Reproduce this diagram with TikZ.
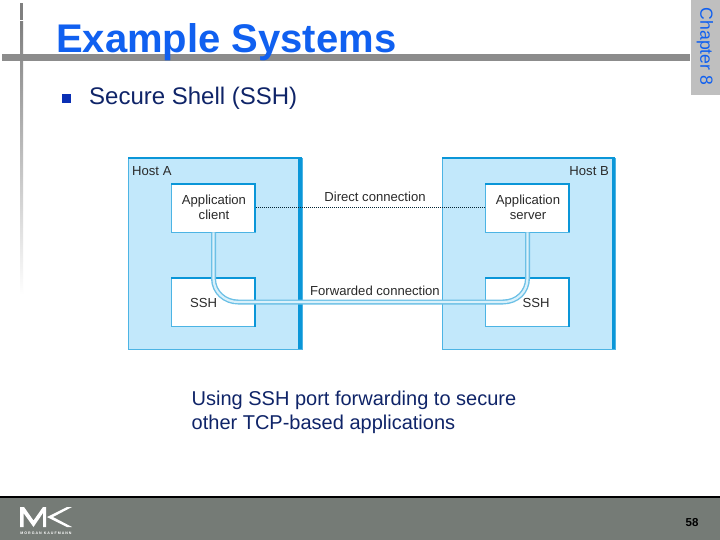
\documentclass[tikz,border=0pt]{standalone}
\usepackage{fontspec}
\setmainfont{Liberation Sans}
\definecolor{titleblue}{HTML}{1060F0}
\definecolor{navy}{HTML}{0F2468}
\definecolor{bulletblue}{HTML}{0A2FB4}
\definecolor{hostfill}{HTML}{C2E8FB}
\definecolor{hostedge}{HTML}{0A96D8}
\definecolor{thinedge}{HTML}{4CB4E4}
\definecolor{footgrey}{HTML}{757B76}
\definecolor{ink}{HTML}{2A2A2A}
\definecolor{pipeedge}{HTML}{6CC0E6}
\definecolor{pipein}{HTML}{DAF1FB}
\tikzset{
  host/.style={fill=hostfill,draw=thinedge,line width=0.8pt,minimum width=0pt,inner sep=0pt},
  appbox/.style={fill=white,draw=thinedge,line width=0.8pt,inner sep=0pt,minimum width=84pt,minimum height=49pt},
  thickedge/.style={fill=hostedge},
  lab/.style={font=\fontsize{13.1}{15.5}\selectfont,text=ink,inner sep=0pt,align=center},
  pipe/.style={draw=pipeedge,line width=1.4pt,double=pipein,double distance=2.2pt,line join=round}
}
\begin{document}
\begin{tikzpicture}[x=1pt,y=-1pt]
\useasboundingbox (0,0) rectangle (720,540);
\fill[white] (0,0) rectangle (720,540);
% decorative rules
\fill[black!50] (20,3) rectangle (23,20.5);
\fill[top color=black!50,bottom color=white] (20,22) rectangle (23,295);
\fill[black!45] (2,54) rectangle (690,61);
% chapter tab
\fill[black!25] (691,0) rectangle (720,95);
\node[rotate=-90,text=titleblue,font=\fontsize{17.6}{20}\selectfont,inner sep=0pt] (chap) at (705,46.5) {Chapter 8};
% title and bullet
\node[anchor=base west,inner sep=0pt,text=titleblue,font=\fontsize{40}{44}\bfseries\selectfont] (title) at (56,52.5) {Example Systems};
\node[fill=bulletblue,minimum size=9pt,inner sep=0pt] (bul) at (66.5,98.5) {};
\node[anchor=base west,inner sep=0pt,text=navy,font=\fontsize{24}{28}\selectfont] (sec) at (89,105) {Secure Shell (SSH)};
% hosts
\node[host,minimum width=173.5pt,minimum height=191pt,anchor=north west] (ha) at (128,158) {};
\node[host,minimum width=172.5pt,minimum height=191pt,anchor=north west] (hb) at (442,158) {};
\fill[thickedge] (128,157) rectangle (301.5,159.5);
\fill[thickedge] (298,157) rectangle (301.5,349);
\fill[thickedge] (442,157) rectangle (615,159.5);
\fill[thickedge] (612,157) rectangle (615,349);
\node[lab,anchor=west] (hal) at (132,171) {Host A};
\node[lab,anchor=east] (hbl) at (609,171.5) {Host B};
% boxes
\node[appbox] (cl) at (213.5,207.5) {};
\node[appbox] (sa) at (213.5,302) {};
\node[appbox] (sv) at (527.5,207.5) {};
\node[appbox] (sb) at (527.5,302) {};
\foreach \b in {cl,sa,sv,sb}{
  \fill[thickedge] (\b.north west) rectangle ([yshift=-2pt]\b.north east);
  \fill[thickedge] ([xshift=-1.5pt]\b.north east) rectangle (\b.south east);
}
\node[lab] (clt) at (214,207.5) {Application\\client};
\node[lab] (svt) at (528,207.5) {Application\\server};
\node[lab] (sat) at (203.5,302.5) {SSH};
\node[lab] (sbt) at (536,302.5) {SSH};
% connections
\draw[black!75!hostedge,line width=1.3pt,dash pattern=on 1pt off 1pt] (cl.east) -- (sv.west);
\draw[pipe] (cl.south) -- ++(0,46) .. controls +(0,14) and (225,302) .. (238,302) -- (503,302) .. controls (517,302) and (527.5,292) .. (527.5,278) -- (sv.south);
\node[lab] (dc) at (375,197) {Direct connection};
\node[lab] (fc) at (375,291) {Forwarded connection};
% caption
\node[anchor=north west,inner sep=0pt,align=left,text=navy,font=\fontsize{20}{24}\selectfont] (cap) at (191.5,391) {Using SSH port forwarding to secure\\other TCP-based applications};
% footer
\fill[footgrey] (0,498) rectangle (720,540);
\fill[black] (0,496) rectangle (720,498);
\fill[white] (20,527) -- (20,507) -- (24,507) -- (33.5,520.5) -- (43,507) -- (46,507) -- (46,527) -- (43,527) -- (43,513) -- (33.5,527) -- (23.5,513) -- (23.5,527) -- cycle;
\fill[white] (72,507) -- (53,517) -- (72,527) -- (67,527) -- (47,517) -- (67,507) -- cycle;
\node[text=white,inner sep=0pt,font=\fontsize{3.6}{4}\bfseries\selectfont] (mk) at (46,533.5) {M O R G A N\ \ K A U F M A N N};
\node[text=black,inner sep=0pt,font=\fontsize{11.5}{12}\bfseries\selectfont] (pg) at (692,522.5) {58};
\end{tikzpicture}
\end{document}
